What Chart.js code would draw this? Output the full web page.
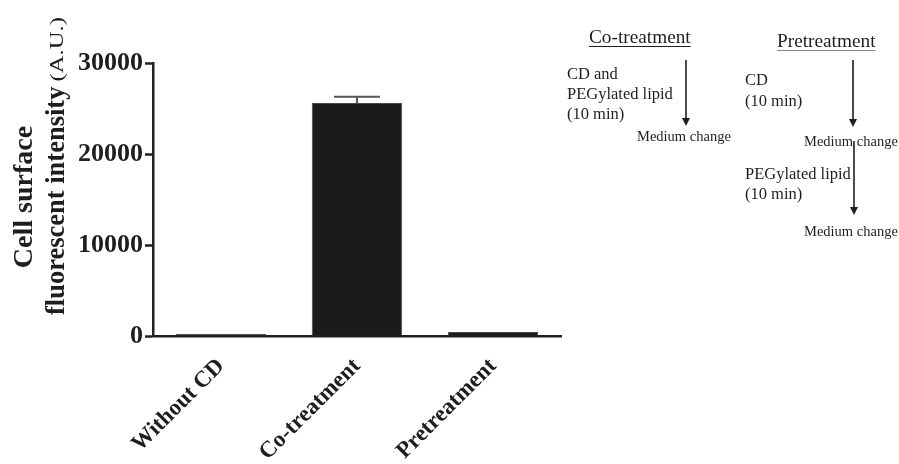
<!DOCTYPE html>
<html>
<head>
<meta charset="utf-8">
<script src="https://cdn.jsdelivr.net/npm/chart.js@4.4.1/dist/chart.umd.min.js"></script>
<style>
  html, body { margin: 0; padding: 0; background: #fff; }
  #wrap { width: 899px; height: 464px; }
</style>
</head>
<body>
<div id="wrap"><canvas id="barChart" width="899" height="464"></canvas></div>
<script>
// data
const categories = ['Without CD', 'Co-treatment', 'Pretreatment'];
const intensity = [250, 25600, 450];
const errorUp = [0, 700, 0];
const yTicks = [0, 10000, 20000, 30000];

const serif = "'Liberation Serif', 'Times New Roman', serif";
const ink = '#1e1e1e';

// error bar on top of the bars
const errorBars = {
  id: 'errorBars',
  afterDatasetsDraw(chart) {
    const ctx = chart.ctx;
    const meta = chart.getDatasetMeta(0);
    const y = chart.scales.y;
    ctx.save();
    ctx.strokeStyle = '#555';
    ctx.lineWidth = 2;
    meta.data.forEach(function(bar, i) {
      if (!errorUp[i]) return;
      const top = y.getPixelForValue(intensity[i] + errorUp[i]);
      const base = y.getPixelForValue(intensity[i]);
      ctx.beginPath();
      ctx.moveTo(bar.x, base);
      ctx.lineTo(bar.x, top);
      ctx.moveTo(bar.x - 23, top);
      ctx.lineTo(bar.x + 23, top);
      ctx.stroke();
    });
    ctx.restore();
  }
};

// y title + protocol sketch on the right
function arrow(ctx, x, y1, y2) {
  ctx.beginPath();
  ctx.moveTo(x, y1);
  ctx.lineTo(x, y2 - 6);
  ctx.stroke();
  ctx.beginPath();
  ctx.moveTo(x - 4, y2 - 8);
  ctx.lineTo(x + 4, y2 - 8);
  ctx.lineTo(x, y2);
  ctx.closePath();
  ctx.fill();
}

const sketch = {
  id: 'sketch',
  afterDraw(chart) {
    const ctx = chart.ctx;
    ctx.save();
    ctx.fillStyle = ink;
    ctx.strokeStyle = ink;

    // y axis title
    ctx.save();
    ctx.translate(25, 197);
    ctx.rotate(-Math.PI / 2);
    ctx.textAlign = 'center';
    ctx.textBaseline = 'middle';
    ctx.font = 'bold 28px ' + serif;
    ctx.fillText('Cell surface', 0, 0);
    ctx.restore();

    ctx.save();
    ctx.translate(57, 315);
    ctx.rotate(-Math.PI / 2);
    ctx.textAlign = 'left';
    ctx.textBaseline = 'middle';
    ctx.font = 'bold 26.5px ' + serif;
    ctx.fillText('fluorescent intensity', 0, 0);
    const w = ctx.measureText('fluorescent intensity').width;
    ctx.translate(w + 5, 1);
    ctx.scale(1.3, 1);
    ctx.font = '19px ' + serif;
    ctx.fillText('(A.U.)', 0, 0);
    ctx.restore();

    // headers
    ctx.textBaseline = 'middle';
    ctx.textAlign = 'left';
    ctx.font = '19.3px ' + serif;
    ctx.lineWidth = 1;
    ctx.fillText('Co-treatment', 589, 38);
    let hw = ctx.measureText('Co-treatment').width;
    ctx.beginPath(); ctx.moveTo(589, 46.5); ctx.lineTo(589 + hw, 46.5); ctx.stroke();
    ctx.fillText('Pretreatment', 777, 42);
    hw = ctx.measureText('Pretreatment').width;
    ctx.strokeStyle = '#888';
    ctx.beginPath(); ctx.moveTo(777, 50.5); ctx.lineTo(777 + hw, 50.5); ctx.stroke();
    ctx.strokeStyle = ink;

    // co-treatment steps
    ctx.font = '16.5px ' + serif;
    ctx.fillText('CD and', 567, 75);
    ctx.fillText('PEGylated lipid', 567, 95);
    ctx.fillText('(10 min)', 567, 115);
    ctx.font = '14.5px ' + serif;
    ctx.fillText('Medium change', 637, 137);

    // pretreatment steps
    ctx.font = '16.5px ' + serif;
    ctx.fillText('CD', 745, 81);
    ctx.fillText('(10 min)', 745, 102);
    ctx.fillText('PEGylated lipid', 745, 175);
    ctx.fillText('(10 min)', 745, 195);
    ctx.font = '14.5px ' + serif;
    ctx.fillText('Medium change', 804, 142);
    ctx.fillText('Medium change', 804, 232);

    ctx.lineWidth = 1.6;
    arrow(ctx, 686, 60, 126);
    arrow(ctx, 853, 60, 127);
    arrow(ctx, 854, 141, 215);
    ctx.restore();
  }
};

const area = document.getElementById('barChart').getContext('2d');
const barChart = new Chart(area, {
  type: 'bar',
  data: {
    labels: categories,
    datasets: [
      {
        label: 'Cell surface fluorescent intensity',
        data: intensity,
        backgroundColor: '#1b1b1b',
        borderColor: '#4a4a4a',
        borderWidth: 1,
        barPercentage: 0.665,
        categoryPercentage: 1
      }
    ]
  },
  options: {
    responsive: false,
    animation: false,
    layout: {
      padding: { top: 63, right: 338, bottom: 0, left: 0 }
    },
    plugins: {
      legend: { display: false },
      tooltip: { enabled: false }
    },
    scales: {
      x: {
        grid: { display: false, drawTicks: false },
        border: { display: true, color: '#222', width: 2.5 },
        ticks: {
          color: ink,
          font: { family: serif, size: 23, weight: 'bold' },
          minRotation: 45,
          maxRotation: 45,
          padding: 17
        },
        afterFit: function(scale) { scale.height = 128; }
      },
      y: {
        min: 0,
        max: 30000,
        afterBuildTicks: function(scale) {
          scale.ticks = yTicks.map(function(v) { return { value: v }; });
        },
        grid: {
          drawOnChartArea: false,
          drawTicks: true,
          tickLength: 8,
          tickWidth: 2.5,
          tickColor: '#222'
        },
        border: { display: true, color: '#222', width: 2.5 },
        ticks: {
          color: ink,
          font: { family: serif, size: 26, weight: 'bold' },
          padding: 2,
          callback: function(v) { return String(v); }
        },
        afterFit: function(scale) { scale.width = 153; }
      }
    }
  },
  plugins: [errorBars, sketch]
});
</script>
</body>
</html>
